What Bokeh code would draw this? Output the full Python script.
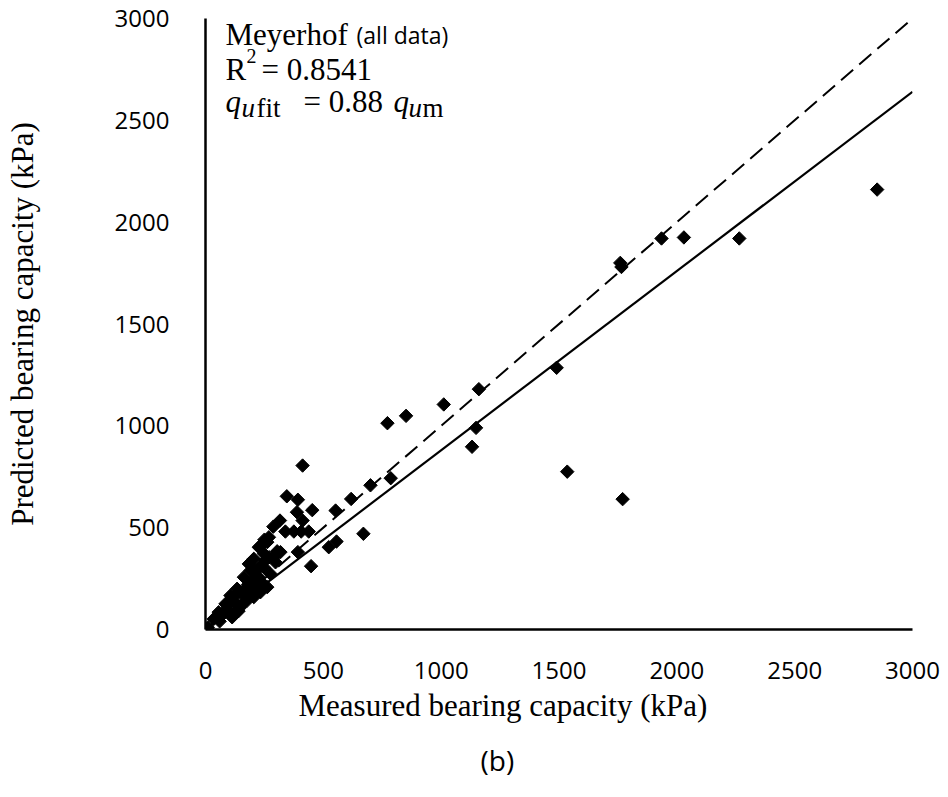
import numpy as np
from bokeh.plotting import figure
from bokeh.models import Label, Title, Range1d
from bokeh.embed import file_html
from bokeh.resources import INLINE

# Measured vs predicted bearing capacity (kPa)
measured = [2850, 2265, 2030, 1935, 1760, 1765, 1490, 1535, 1770, 1160,
            1148, 1131, 1011, 851, 772, 786, 700, 618, 552, 670,
            556, 523, 412, 345, 392, 453, 388, 412, 316, 288,
            339, 375, 406, 438, 448, 250, 262, 235, 226, 269,
            304, 318, 392, 270, 290, 248, 205, 184, 297, 248,
            276, 191, 163, 226, 262, 233, 134, 106, 205, 177,
            85, 148, 56, 113, 35, 10, 120, 150, 180, 200,
            140, 95, 70, 160, 190, 215, 240, 100, 125, 170,
            210, 230, 255, 60, 50, 80]
predicted = [2160, 1920, 1925, 1920, 1800, 1780, 1285, 775, 640, 1180,
             990, 897, 1105, 1049, 1013, 743, 708, 641, 584, 470,
             432, 404, 805, 654, 637, 586, 576, 535, 535, 505,
             481, 481, 481, 481, 311, 441, 429, 412, 404, 453,
             384, 380, 380, 355, 355, 372, 347, 322, 330, 306,
             273, 290, 257, 257, 208, 183, 200, 167, 159, 142,
             126, 110, 85, 60, 52, 10, 140, 180, 220, 240,
             90, 100, 70, 130, 170, 200, 230, 130, 165, 200,
             280, 310, 340, 40, 60, 90]

fit_slope = 0.88
line_x = [0, 3000]
x_ticks = [0, 500, 1000, 1500, 2000, 2500, 3000]
y_ticks = [0, 500, 1000, 1500, 2000, 2500, 3000]

SERIF = "Liberation Serif"
SANS = "Open Sans"

p = figure(width=948, height=797, output_backend="svg", toolbar_location=None,
           x_range=Range1d(0, 3000), y_range=Range1d(0, 3000),
           min_border_left=205, min_border_right=36,
           min_border_top=18, min_border_bottom=168)
p.outline_line_color = None
p.xgrid.grid_line_color = None
p.ygrid.grid_line_color = None
p.background_fill_color = "white"
p.border_fill_color = "white"

for ax in (p.xaxis[0], p.yaxis[0]):
    ax.axis_line_color = "black"
    ax.axis_line_width = 2.5
    ax.major_tick_line_color = None
    ax.minor_tick_line_color = None
    ax.major_label_text_font = SANS
    ax.major_label_text_font_size = "24px"
    ax.major_label_text_color = "black"

p.xaxis.ticker = x_ticks
p.yaxis.ticker = y_ticks
p.xaxis.major_label_standoff = 26
p.yaxis.major_label_standoff = 30

p.yaxis.axis_label = "Predicted bearing capacity (kPa)"
p.yaxis.axis_label_text_font = SERIF
p.yaxis.axis_label_text_font_size = "31px"
p.yaxis.axis_label_text_font_style = "normal"
p.yaxis.axis_label_text_color = "black"
p.yaxis.axis_label_standoff = 72

# 1:1 line (dashed) and fitted line (solid)
p.line(line_x, line_x, line_color="black", line_width=2, line_dash="16 8")
p.line(line_x, [fit_slope * v for v in line_x], line_color="black", line_width=2.2)

p.scatter(measured, predicted, marker="square", angle=np.pi / 4, size=9.5,
          fill_color="black", line_color="black")

def lab(x, y, text, size, font=SERIF, style="normal", dx=0, dy=0):
    p.add_layout(Label(x=x, y=y, text=text, x_offset=dx, y_offset=dy,
                       text_font=font, text_font_size=size, text_font_style=style,
                       text_baseline="alphabetic", text_align="left",
                       text_color="black"))

x0 = 85
lab(x0, 2920, "Meyerhof", "31px")
lab(x0, 2920, "(all data)", "23px", font=SANS, dx=131)
lab(x0, 2750, "R", "31px")
lab(x0, 2750, "2", "20px", dx=21, dy=13)
lab(x0, 2750, "= 0.8541", "31px", dx=36)
lab(x0, 2592, "q", "31px", style="italic")
lab(x0, 2592, "u", "27px", style="italic", dx=16, dy=-6)
lab(x0, 2592, "fit", "27px", dx=31, dy=-6)
lab(x0, 2592, "= 0.88", "31px", dx=78)
lab(x0, 2592, "q", "31px", style="italic", dx=168)
lab(x0, 2592, "u", "27px", style="italic", dx=183, dy=-6)
lab(x0, 2592, "m", "27px", dx=197, dy=-6)

xt = Title(text="Measured bearing capacity (kPa)", align="left", offset=93,
           text_font=SERIF, text_font_size="31px", text_font_style="normal",
           text_color="black", standoff=8)
p.add_layout(xt, "below")

t = Title(text="(b)", align="left", offset=275, text_font=SANS,
          text_font_size="28px", text_font_style="normal", text_color="black",
          standoff=24)
p.add_layout(t, "below")

open("out.html", "w").write(file_html(p, INLINE))
